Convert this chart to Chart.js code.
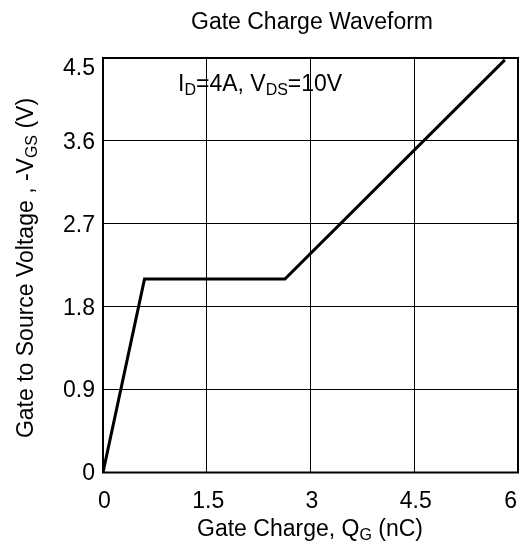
<!DOCTYPE html>
<html lang="en">
<head>
    <meta charset="UTF-8">
    <title>Gate Charge Waveform</title>
    <script src="https://cdn.jsdelivr.net/npm/chart.js"></script>
    <style>
        html, body { margin: 0; padding: 0; background: #fff; }
        #wrap { width: 519px; height: 546px; }
    </style>
</head>
<body>
    <div id="wrap">
        <canvas id="gateChart" width="519" height="546"></canvas>
    </div>

    <script>
        // values
        const qG = [0, 0.6, 2.63, 5.81];       // gate charge (nC)
        const vGS = [0, 2.1, 2.1, 4.48];       // -VGS (V)
        const xTicks = [0, 1.5, 3, 4.5, 6];
        const yTicks = [0, 0.9, 1.8, 2.7, 3.6, 4.5];
        const xTickLabels = ['0', '1.5', '3', '4.5', '6'];
        const yTickLabels = ['0', '0.9', '1.8', '2.7', '3.6', '4.5'];

        const FONT = '"Liberation Sans", Arial, sans-serif';
        const SIZE = 23;
        const SUB = 16;

        // draws text made of [string, isSubscript] parts
        function richText(ctx, parts, x, y, align) {
            let total = 0;
            parts.forEach(p => {
                ctx.font = (p[1] ? SUB : SIZE) + 'px ' + FONT;
                total += ctx.measureText(p[0]).width;
            });
            let cx = align === 'center' ? x - total / 2 : x;
            parts.forEach(p => {
                ctx.font = (p[1] ? SUB : SIZE) + 'px ' + FONT;
                ctx.textAlign = 'left';
                ctx.textBaseline = 'alphabetic';
                ctx.fillText(p[0], cx, p[1] ? y + 4 : y);
                cx += ctx.measureText(p[0]).width;
            });
        }

        const labelsPlugin = {
            id: 'labels',
            afterDraw(chart) {
                const ctx = chart.ctx;
                const area = chart.chartArea;
                const xs = chart.scales.x;
                const ys = chart.scales.y;
                ctx.save();

                // frame
                ctx.strokeStyle = '#000';
                ctx.lineWidth = 2;
                ctx.strokeRect(area.left, area.top, area.right - area.left, area.bottom - area.top);

                ctx.fillStyle = '#000';
                ctx.font = SIZE + 'px ' + FONT;

                // x tick labels
                ctx.textBaseline = 'middle';
                ctx.textAlign = 'center';
                xTicks.forEach((v, i) => {
                    let px = xs.getPixelForValue(v) + 1.5;
                    const w = ctx.measureText(xTickLabels[i]).width;
                    if (px + w / 2 > 517) px = 517 - w / 2;
                    ctx.fillText(xTickLabels[i], px, area.bottom + 29);
                });

                // y tick labels
                ctx.textAlign = 'right';
                yTicks.forEach((v, i) => {
                    let py = ys.getPixelForValue(v) + 1.5;
                    if (py < area.top + 10.5) py = area.top + 10.5;
                    ctx.fillText(yTickLabels[i], area.left - 8, py);
                });

                // title
                ctx.textAlign = 'center';
                ctx.textBaseline = 'alphabetic';
                ctx.fillText('Gate Charge Waveform', 312, 29);

                // x axis title
                richText(ctx, [['Gate Charge, Q', false], ['G', true], [' (nC)', false]], 310, 536, 'center');

                // y axis title
                ctx.save();
                ctx.translate(33, 268);
                ctx.rotate(-Math.PI / 2);
                richText(ctx, [['Gate to Source Voltage , -V', false], ['GS', true], [' (V)', false]], 0, 0, 'center');
                ctx.restore();

                // condition note
                richText(ctx, [['I', false], ['D', true], ['=4A, V', false], ['DS', true], ['=10V', false]], 178, 91);

                ctx.restore();
            }
        };

        new Chart(document.getElementById('gateChart'), {
            type: 'line',
            data: {
                datasets: [{
                    data: qG.map((q, i) => ({ x: q, y: vGS[i] })),
                    borderColor: '#000',
                    borderWidth: 3,
                    pointRadius: 0,
                    tension: 0,
                    fill: false
                }]
            },
            options: {
                responsive: false,
                animation: false,
                events: [],
                layout: {
                    padding: { left: 103, right: 1, top: 58, bottom: 73.5 }
                },
                plugins: {
                    legend: { display: false },
                    tooltip: { enabled: false }
                },
                scales: {
                    x: {
                        type: 'linear',
                        min: 0,
                        max: 6,
                        afterBuildTicks: s => { s.ticks = xTicks.map(v => ({ value: v })); },
                        ticks: { display: false },
                        grid: { color: '#000', lineWidth: 1, drawTicks: false },
                        border: { display: false }
                    },
                    y: {
                        type: 'linear',
                        min: 0,
                        max: 4.5,
                        afterBuildTicks: s => { s.ticks = yTicks.map(v => ({ value: v })); },
                        ticks: { display: false },
                        grid: { color: '#000', lineWidth: 1, drawTicks: false },
                        border: { display: false }
                    }
                }
            },
            plugins: [labelsPlugin]
        });
    </script>
</body>
</html>
